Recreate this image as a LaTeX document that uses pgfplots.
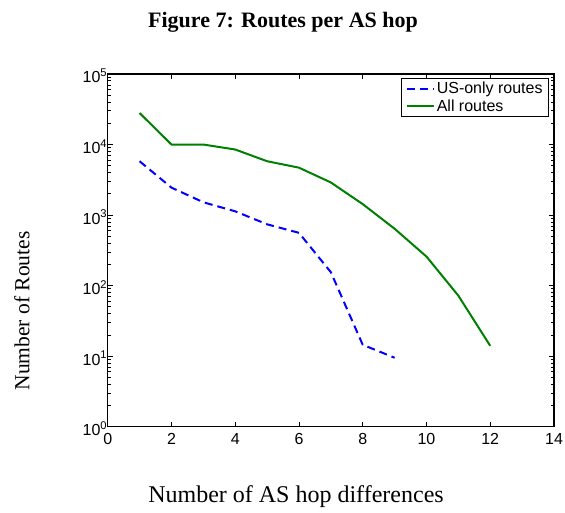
\documentclass[border=0pt]{standalone}
\usepackage{pgfplots}
\pgfplotsset{compat=1.18}
\usepackage{fontspec}
\setmainfont{Liberation Serif}
\newfontfamily\arial{Liberation Sans}
\definecolor{mblue}{RGB}{0,0,255}
\definecolor{mgreen}{RGB}{0,128,0}
\begin{document}
\begin{tikzpicture}
\path[use as bounding box] (0pt,0pt) rectangle (565pt,512pt);
\node[font=\bfseries\fontsize{22}{26}\selectfont] at (283pt,490pt) {Figure 7: Routes per AS hop};
\node[font=\fontsize{21.5}{25}\selectfont, rotate=90] at (22pt,201pt) {Number of Routes};
\node[font=\fontsize{24}{28}\selectfont] at (296pt,15pt) {Number of AS hop differences};
\begin{axis}[
  at={(107.7pt,85.3pt)}, anchor=south west,
  scale only axis, width=446.3pt, height=352.7pt,
  ymode=log, xmin=0, xmax=14, ymin=1, ymax=1e5,
  xtick={0,2,...,14},
  ytick={1,10,100,1000,10000,100000},
  yticklabels={10\textsuperscript{0},10\textsuperscript{1},10\textsuperscript{2},10\textsuperscript{3},10\textsuperscript{4},10\textsuperscript{5}},
  tick align=inside,
  major tick length=5pt, minor tick length=3pt,
  /pgf/number format/assume math mode=true,
  ticklabel style={font=\arial\fontsize{16}{18}\selectfont},
  xticklabel style={yshift=-3pt},
  yticklabel style={xshift=3pt, yshift=-2pt},
  axis line style={line width=1.2pt},
  every tick/.style={black, line width=0.8pt},
  legend style={at={(1,1)}, anchor=north east, xshift=-5pt, yshift=-4pt,
    font=\arial\fontsize{16}{18}\selectfont, draw=black, line width=0.8pt,
    inner xsep=4pt, inner ysep=2pt, row sep=0pt},
  legend cell align=left,
  legend image code/.code={\draw[#1] (0pt,0pt) -- (27pt,0pt);},
]
\addplot[mblue, line width=2pt, dash pattern=on 8pt off 5pt] coordinates {
(1,5800) (2,2450) (3,1520) (4,1130) (5,740) (6,560) (7,155) (8,14.5) (9,9.5)};
\addlegendentry{US-only routes}
\addplot[mgreen, line width=2pt] coordinates {
(1,28000) (2,10000) (3,10000) (4,8500) (5,5800) (6,4700) (7,2900) (8,1430) (9,640) (10,258) (11,72) (12,14)};
\addlegendentry{All routes}
\end{axis}
\end{tikzpicture}
\end{document}
